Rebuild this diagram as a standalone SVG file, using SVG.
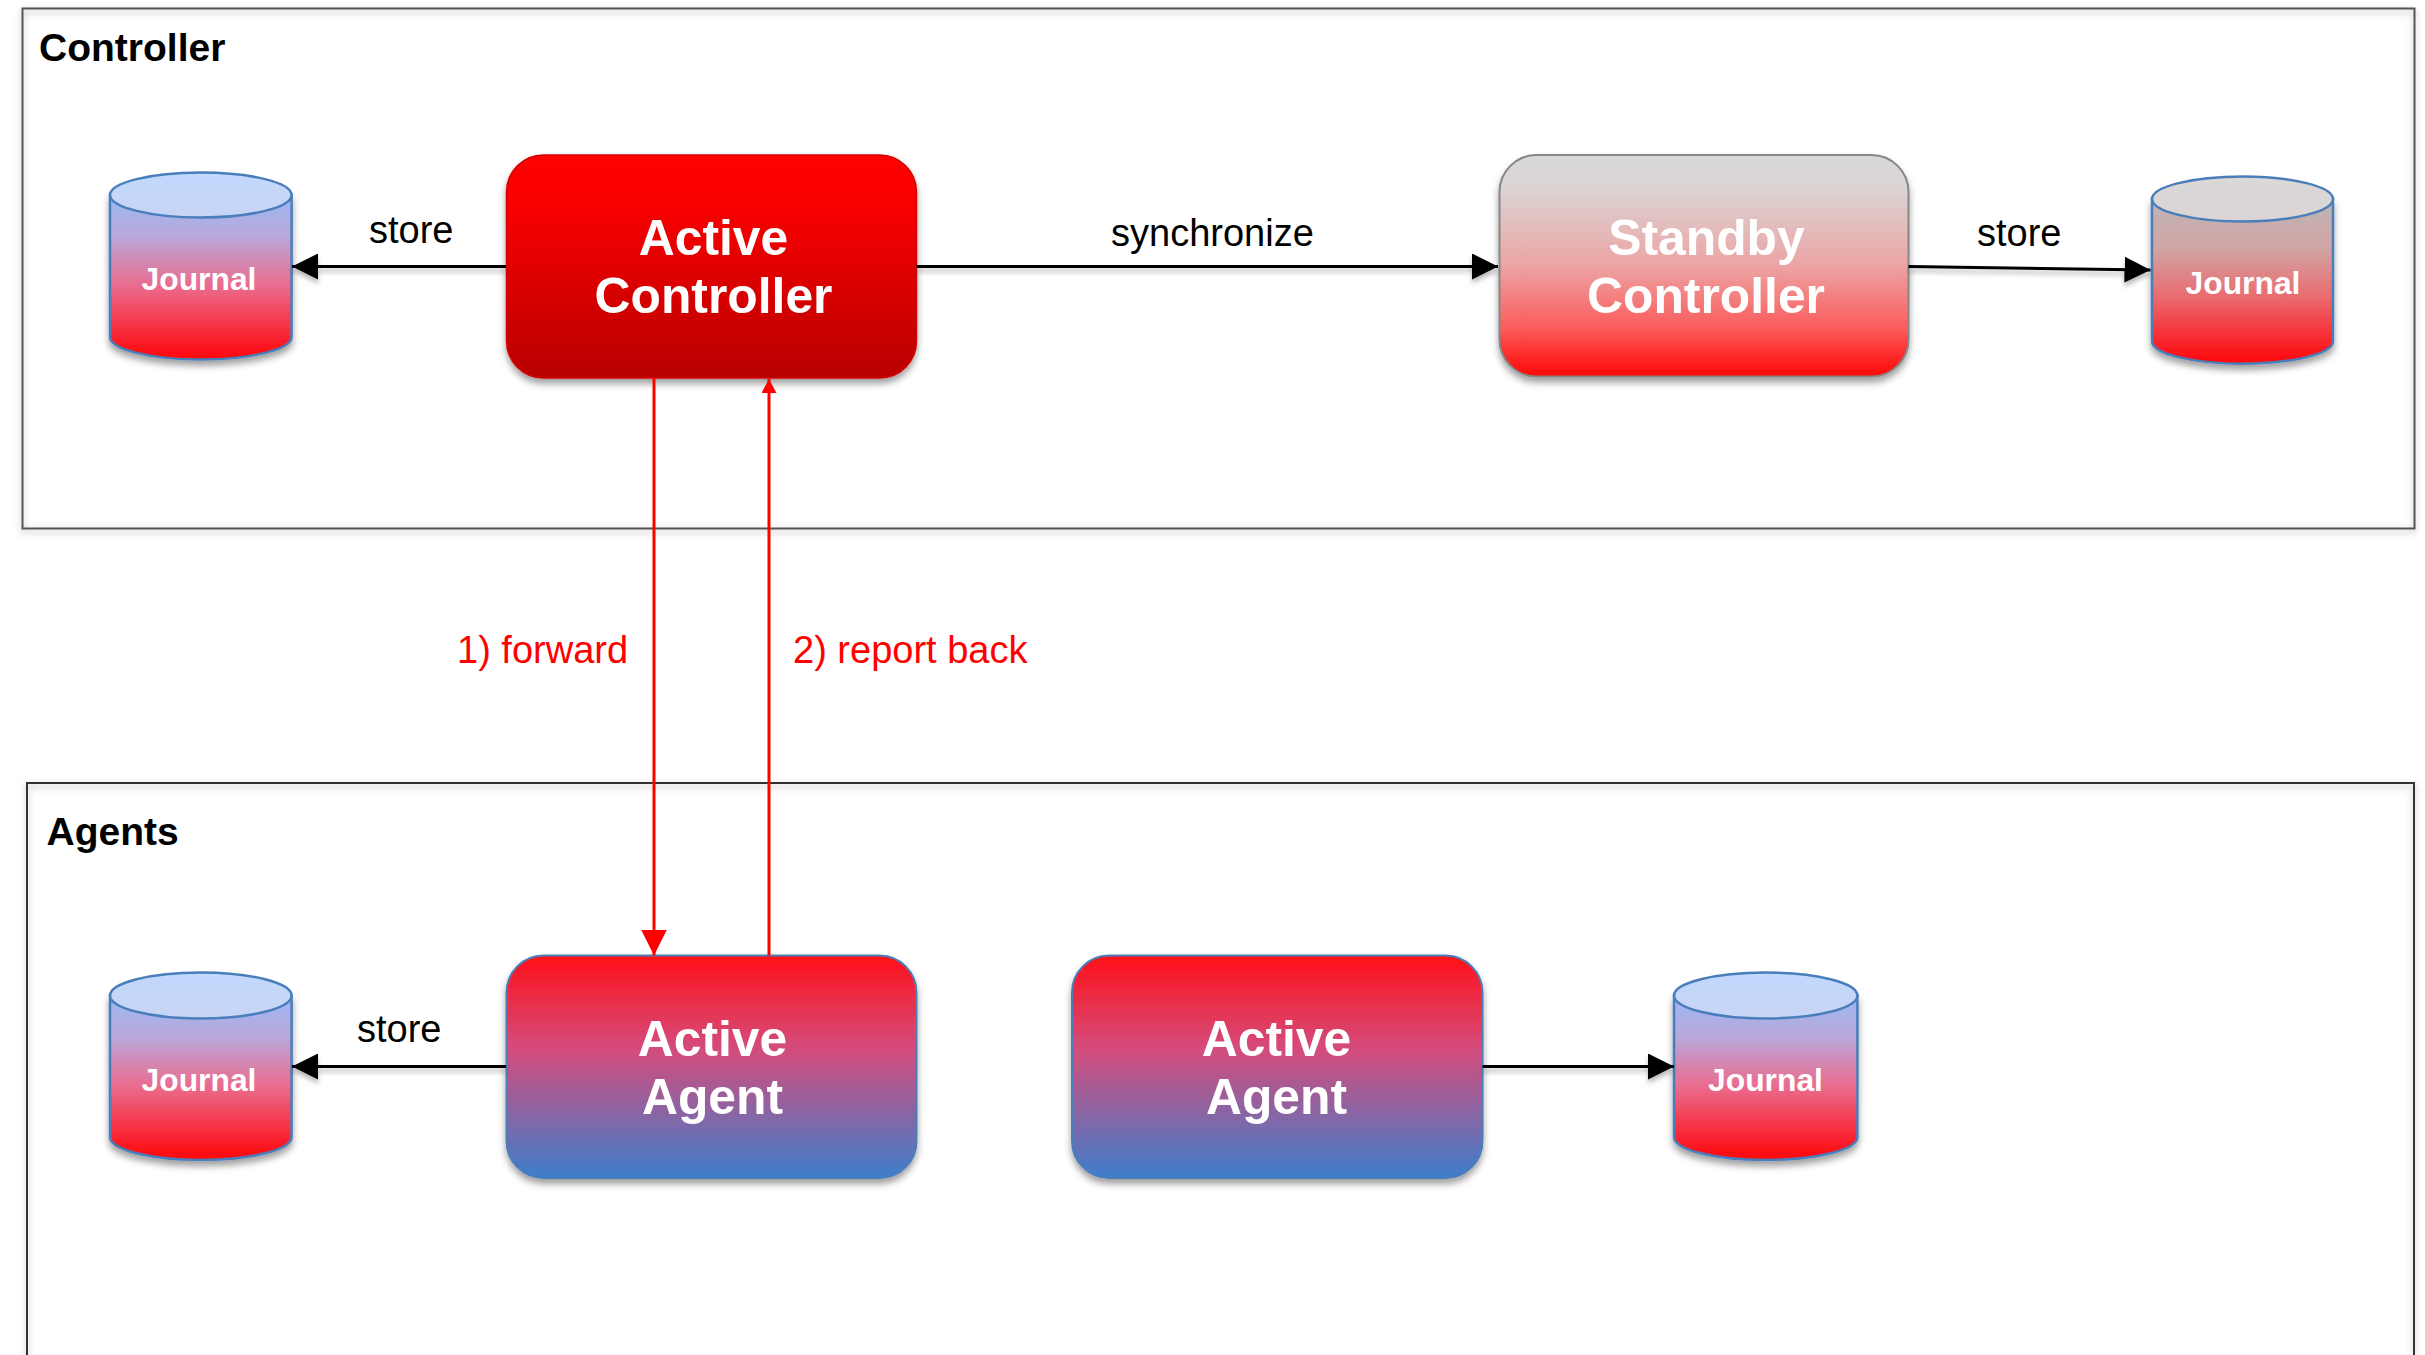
<svg xmlns="http://www.w3.org/2000/svg" width="2425" height="1355" viewBox="0 0 2425 1355">
<style>
text{font-family:"Liberation Sans",Arial,sans-serif}
.title{font-size:39px;font-weight:bold;fill:#000}
.box{font-size:49.800px;font-weight:bold;fill:#fff;text-anchor:middle}
.jt{font-size:31.800px;font-weight:bold;fill:#fff;text-anchor:middle}
.lab{font-size:38px;fill:#000}
.red{fill:#f00}
.frame{fill:none;stroke-width:2}
.cyl{stroke:#4a7ebb;stroke-width:2.5}
.blk{stroke:#000;stroke-width:3;fill:none}
.rl{stroke:#f00;stroke-width:3;fill:none}
</style>
<defs>
<filter id="fs" x="-5%" y="-5%" width="110%" height="110%"><feDropShadow dx="0" dy="3" stdDeviation="3.5" flood-color="#000" flood-opacity=".3"/></filter>
<filter id="ns" x="-10%" y="-10%" width="120%" height="125%"><feDropShadow dx="0" dy="5" stdDeviation="3.5" flood-color="#000" flood-opacity=".38"/></filter>
<filter id="ls" x="-5%" y="-200%" width="110%" height="500%" primitiveUnits="userSpaceOnUse"><feDropShadow dx="0" dy="4" stdDeviation="2.5" flood-color="#000" flood-opacity=".28"/></filter>
<linearGradient id="gAC" x1="0" y1="0" x2="0" y2="1"><stop offset="0" stop-color="#f00"/><stop offset=".25" stop-color="#f60000"/><stop offset="1" stop-color="#b80000"/></linearGradient>
<linearGradient id="gSC" x1="0" y1="0" x2="0" y2="1"><stop offset="0" stop-color="#d8d8d8"/><stop offset=".15" stop-color="#dbd4d4"/><stop offset=".5" stop-color="#eca4a4"/><stop offset=".78" stop-color="#fb5c5c"/><stop offset="1" stop-color="#ff0606"/></linearGradient>
<linearGradient id="gAA" x1="0" y1="0" x2="0" y2="1"><stop offset="0" stop-color="#ff1018"/><stop offset=".42" stop-color="#d44c7c"/><stop offset="1" stop-color="#3e7ecc"/></linearGradient>
<linearGradient id="gB" x1="0" y1="0" x2="0" y2="1"><stop offset="0" stop-color="#9cb9f2"/><stop offset=".25" stop-color="#b8a8dc"/><stop offset=".55" stop-color="#ea6c8e"/><stop offset="1" stop-color="#ff0409"/></linearGradient>
<linearGradient id="gT" x1="0" y1="0" x2="0" y2="1"><stop offset="0" stop-color="#c1d8fe"/><stop offset="1" stop-color="#c8d4f4"/></linearGradient>
<linearGradient id="gBS" x1="0" y1="0" x2="0" y2="1"><stop offset="0" stop-color="#bdb6b6"/><stop offset=".3" stop-color="#d2a4a4"/><stop offset=".6" stop-color="#ea6a6e"/><stop offset="1" stop-color="#ff0409"/></linearGradient>
<linearGradient id="gTS" x1="0" y1="0" x2="0" y2="1"><stop offset="0" stop-color="#dad8d8"/><stop offset="1" stop-color="#dcd4d4"/></linearGradient>
<marker id="ab" markerUnits="userSpaceOnUse" markerWidth="26" markerHeight="26" refX="26" refY="13" orient="auto"><path d="M0 0L26 13L0 26Z" fill="#000"/></marker>
<marker id="rs" markerUnits="userSpaceOnUse" markerWidth="14" markerHeight="15" refX="14" refY="7.500" orient="auto"><path d="M0 0L14 7.500L0 15Z" fill="#f00"/></marker>
<marker id="rb" markerUnits="userSpaceOnUse" markerWidth="26" markerHeight="26" refX="26" refY="13" orient="auto"><path d="M0 0L26 13L0 26Z" fill="#f00"/></marker>
</defs>

<g id="frame-controller">
<rect class="frame" x="22.500" y="8.500" width="2392" height="520" stroke="#555" filter="url(#fs)"/>
<text class="title" x="39" y="61">Controller</text>
</g>
<g id="frame-agents">
<rect class="frame" x="27" y="783" width="2387" height="640" stroke="#333" filter="url(#fs)"/>
<text class="title" x="46.500" y="845">Agents</text>
</g>

<g id="node-journal-1">
<path class="cyl" fill="url(#gB)" filter="url(#ns)" d="M110 195V337a90.800 22.500 0 0 0 181.600 0V195Z"/>
<ellipse class="cyl" fill="url(#gT)" cx="200.800" cy="195" rx="90.800" ry="22.500"/>
<text class="jt" x="199" y="290">Journal</text>
</g>
<g id="node-active-controller">
<rect x="506.500" y="155" width="410" height="223" rx="37" ry="37" fill="url(#gAC)" stroke="#d40000" stroke-width="1.500" filter="url(#ns)"/>
<text class="box" x="713.500" y="255">Active</text>
<text class="box" x="713.500" y="313">Controller</text>
</g>
<g id="node-standby-controller">
<rect x="1499.500" y="155" width="409" height="221.500" rx="37" ry="37" fill="url(#gSC)" stroke="#868686" stroke-width="2" filter="url(#ns)"/>
<text class="box" x="1706.500" y="255">Standby</text>
<text class="box" x="1706" y="313">Controller</text>
</g>
<g id="node-journal-2">
<path class="cyl" fill="url(#gBS)" filter="url(#ns)" d="M2152 199V341.200a90.500 22.500 0 0 0 181 0V199Z"/>
<ellipse class="cyl" fill="url(#gTS)" cx="2242.500" cy="199" rx="90.500" ry="22.500"/>
<text class="jt" x="2243" y="294">Journal</text>
</g>
<g id="node-journal-3">
<path class="cyl" fill="url(#gB)" filter="url(#ns)" d="M110 995.500V1137a90.800 23 0 0 0 181.600 0V995.500Z"/>
<ellipse class="cyl" fill="url(#gT)" cx="200.800" cy="995.500" rx="90.800" ry="23"/>
<text class="jt" x="199" y="1091">Journal</text>
</g>
<g id="node-active-agent-1">
<rect x="506.500" y="955.500" width="410" height="222.500" rx="37" ry="37" fill="url(#gAA)" stroke="#4a7ebb" stroke-width="2" filter="url(#ns)"/>
<text class="box" x="712.500" y="1056">Active</text>
<text class="box" x="712.500" y="1114">Agent</text>
</g>
<g id="node-active-agent-2">
<rect x="1072" y="955.500" width="410.500" height="222.500" rx="37" ry="37" fill="url(#gAA)" stroke="#4a7ebb" stroke-width="2" filter="url(#ns)"/>
<text class="box" x="1276.500" y="1056">Active</text>
<text class="box" x="1276.500" y="1114">Agent</text>
</g>
<g id="node-journal-4">
<path class="cyl" fill="url(#gB)" filter="url(#ns)" d="M1674 995.500V1137a91.700 23 0 0 0 183.400 0V995.500Z"/>
<ellipse class="cyl" fill="url(#gT)" cx="1765.700" cy="995.500" rx="91.700" ry="23"/>
<text class="jt" x="1765.500" y="1091">Journal</text>
</g>

<g id="connectors">
<g filter="url(#ls)">
<path class="blk" marker-end="url(#ab)" d="M506 266.500H292"/>
<path class="blk" marker-end="url(#ab)" d="M916.500 266.500H1498"/>
<path class="blk" marker-end="url(#ab)" d="M1908.500 266.500L2150.500 270"/>
<path class="blk" marker-end="url(#ab)" d="M506 1066.500H292"/>
<path class="blk" marker-end="url(#ab)" d="M1482.500 1066.500H1674"/>
</g>
<path class="rl" marker-end="url(#rb)" d="M654 378V955.500"/>
<path class="rl" marker-end="url(#rs)" d="M769 955.500V379"/>
<text class="lab" x="369" y="243">store</text>
<text class="lab" x="1111" y="246">synchronize</text>
<text class="lab" x="1977" y="246">store</text>
<text class="lab" x="357" y="1041.500">store</text>
<text class="lab red" x="457" y="663">1) forward</text>
<text class="lab red" x="793" y="663">2) report back</text>
</g>
</svg>
